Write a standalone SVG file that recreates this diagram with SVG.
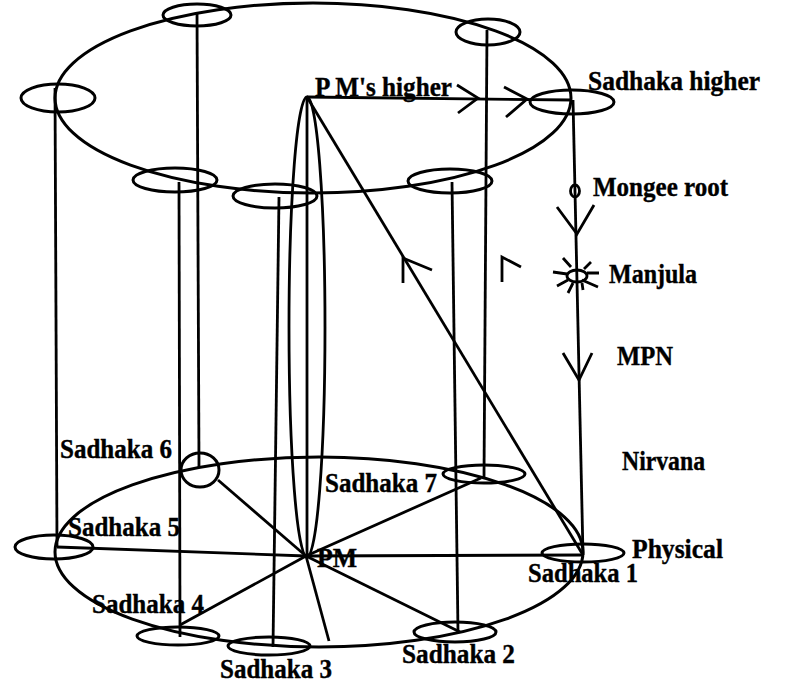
<svg xmlns="http://www.w3.org/2000/svg" width="786" height="687" viewBox="0 0 786 687">
<style>
.e{fill:none;stroke:#000;stroke-width:3}
.l{fill:none;stroke:#000;stroke-width:2.8;stroke-linecap:butt}
text{font-family:"Liberation Serif","Times New Roman",serif;font-weight:bold;font-size:28px;fill:#000;stroke:#000;stroke-width:0.4}
</style>
<rect width="786" height="687" fill="#fff"/>
<g id="planes">
<ellipse id="higher-plane" class="e" cx="313" cy="98" rx="258" ry="95"/>
<ellipse id="physical-plane" class="e" cx="319" cy="552" rx="264" ry="95"/>
<ellipse id="lens" class="l" cx="307" cy="327" rx="18" ry="230" stroke-width="2.2"/>
</g>
<g id="connectors">
<line class="l" x1="55" y1="88" x2="57" y2="547"/>
<line class="l" x1="197" y1="12" x2="199" y2="468"/>
<line class="l" x1="179" y1="182" x2="180" y2="637"/>
<line class="l" x1="279" y1="197" x2="273" y2="647"/>
<line class="l" x1="487" y1="30" x2="484" y2="477"/>
<line class="l" x1="452" y1="182" x2="458" y2="632"/>
<line class="l" x1="573" y1="100" x2="583" y2="555"/>
<line class="l" x1="307" y1="97" x2="307" y2="556"/>
<line class="l" x1="307" y1="97" x2="572" y2="100"/>
<line class="l" x1="307" y1="97" x2="583" y2="555"/>
<line class="l" x1="57" y1="547" x2="306" y2="556"/>
<line class="l" x1="306" y1="556" x2="583" y2="555"/>
<line class="l" x1="306" y1="556" x2="481" y2="478"/>
<line class="l" x1="306" y1="556" x2="460" y2="632"/>
<line class="l" x1="306" y1="556" x2="218" y2="480"/>
<line class="l" x1="306" y1="556" x2="180" y2="625"/>
<line class="l" x1="306" y1="556" x2="329" y2="641"/>
<polyline class="l" points="457,85 478,98 458,113"/>
<polyline class="l" points="504,87 527,99 506,117"/>
<polyline class="l" points="557,207 577,234 594,205"/>
<polyline class="l" points="563,353 579,380 592,353"/>
<polyline class="l" points="403,283 403,258 432,270"/>
<polyline class="l" points="502,282 502,257 521,267"/>
</g>
<g id="pm-higher"><text x="315" y="96" textLength="137" lengthAdjust="spacingAndGlyphs">P M's higher</text></g>
<g id="top-node-1"><ellipse class="e" cx="197" cy="15" rx="34" ry="11"/></g>
<g id="top-node-2"><ellipse class="e" cx="58" cy="98" rx="37" ry="14"/></g>
<g id="top-node-3"><ellipse class="e" cx="175" cy="180" rx="42" ry="12"/></g>
<g id="top-node-4"><ellipse class="e" cx="275" cy="196" rx="42" ry="12"/></g>
<g id="top-node-5"><ellipse class="e" cx="488" cy="32" rx="32" ry="13"/></g>
<g id="top-node-6"><ellipse class="e" cx="450" cy="181" rx="42" ry="12"/></g>
<g id="sadhaka-higher"><ellipse class="e" cx="572" cy="102" rx="42" ry="12"/><text x="588" y="90" textLength="172" lengthAdjust="spacingAndGlyphs">Sadhaka higher</text></g>
<g id="mongee-root"><ellipse class="l" cx="575" cy="191" rx="4.5" ry="6"/><text x="593" y="196" textLength="135" lengthAdjust="spacingAndGlyphs">Mongee root</text></g>
<g id="manjula"><ellipse class="l" cx="577" cy="276" rx="10" ry="6"/>
<path class="l" d="M563,258L571,267M591,262L584,269M553,272L567,274M587,273L599,273M568,293L573,283M582,280L598,287M582,283L583,290M557,286L568,280"/>
<text x="609" y="283" textLength="88" lengthAdjust="spacingAndGlyphs">Manjula</text></g>
<g id="mpn"><text x="617" y="365" textLength="56" lengthAdjust="spacingAndGlyphs">MPN</text></g>
<g id="nirvana"><text x="622" y="470" textLength="83" lengthAdjust="spacingAndGlyphs">Nirvana</text></g>
<g id="physical"><text x="632" y="558" textLength="91" lengthAdjust="spacingAndGlyphs">Physical</text></g>
<g id="pm"><text x="317" y="567" textLength="40" lengthAdjust="spacingAndGlyphs">PM</text></g>
<g id="sadhaka-1"><ellipse class="e" cx="583" cy="553" rx="41" ry="9"/><text x="528" y="582" textLength="110" lengthAdjust="spacingAndGlyphs">Sadhaka 1</text></g>
<g id="sadhaka-2"><ellipse class="e" cx="455" cy="632" rx="41" ry="10"/><text x="402" y="663" textLength="113" lengthAdjust="spacingAndGlyphs">Sadhaka 2</text></g>
<g id="sadhaka-3"><ellipse class="e" cx="269" cy="646" rx="41" ry="9"/><text x="220" y="678" textLength="112" lengthAdjust="spacingAndGlyphs">Sadhaka 3</text></g>
<g id="sadhaka-4"><ellipse class="e" cx="178" cy="636" rx="41" ry="9"/><text x="92" y="613" textLength="112" lengthAdjust="spacingAndGlyphs">Sadhaka 4</text></g>
<g id="sadhaka-5"><ellipse class="e" cx="54" cy="547" rx="39" ry="12"/><text x="68" y="536" textLength="112" lengthAdjust="spacingAndGlyphs">Sadhaka 5</text></g>
<g id="sadhaka-6"><ellipse class="e" cx="200" cy="470" rx="19" ry="17"/><text x="60" y="458" textLength="112" lengthAdjust="spacingAndGlyphs">Sadhaka 6</text></g>
<g id="sadhaka-7"><ellipse class="e" cx="484" cy="474" rx="41" ry="9"/><text x="325" y="492" textLength="112" lengthAdjust="spacingAndGlyphs">Sadhaka 7</text></g>
</svg>
